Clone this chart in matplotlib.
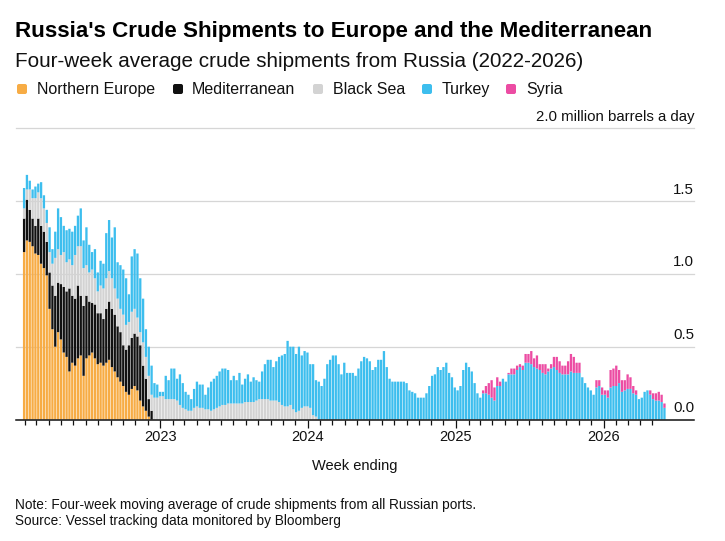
import numpy as np
import pandas as pd
import matplotlib
matplotlib.use("Agg")
import matplotlib.pyplot as plt
import matplotlib.transforms as mtransforms
from matplotlib.patches import FancyBboxPatch

plt.rcParams['font.family'] = ['Liberation Sans', 'DejaVu Sans']

# ---------------- data (million barrels a day, weekly, four-week avg) ----------------
first_week = '2022-01-30'
n_weeks = 227

northern_europe = [1.15, 1.23, 1.22, 1.19, 1.14, 1.13, 1.07, 1.04, 0.99, 0.76, 0.62, 0.50, 0.60, 0.55,
                   0.46, 0.43, 0.33, 0.39, 0.37, 0.42, 0.44, 0.30, 0.42, 0.44, 0.46, 0.42, 0.38, 0.39,
                   0.37, 0.39, 0.41, 0.36, 0.33, 0.29, 0.26, 0.23, 0.19, 0.17, 0.21, 0.23, 0.20, 0.13,
                   0.09, 0.06, 0.02]
northern_europe_start = 0

mediterranean = [0.23, 0.28, 0.22, 0.19, 0.19, 0.25, 0.26, 0.25, 0.23, 0.25, 0.30, 0.35, 0.34, 0.38,
                 0.45, 0.45, 0.57, 0.46, 0.46, 0.50, 0.41, 0.48, 0.43, 0.37, 0.34, 0.37, 0.35, 0.34,
                 0.32, 0.37, 0.40, 0.40, 0.39, 0.35, 0.34, 0.28, 0.29, 0.34, 0.35, 0.36, 0.37, 0.38,
                 0.28, 0.22, 0.12, 0.06]
mediterranean_start = 0

black_sea = [0.07, 0.07, 0.14, 0.14, 0.19, 0.18, 0.19, 0.16, 0.13, 0.14, 0.15, 0.26, 0.23, 0.20,
             0.24, 0.20, 0.20, 0.21, 0.30, 0.27, 0.34, 0.26, 0.21, 0.20, 0.23, 0.18, 0.15, 0.19,
             0.21, 0.21, 0.21, 0.21, 0.18, 0.19, 0.16, 0.21, 0.17, 0.16, 0.18, 0.17, 0.13, 0.09,
             0.16, 0.15, 0.16, 0.11, 0.15, 0.15,
             0.16, 0.16, 0.14, 0.14, 0.14, 0.14, 0.13, 0.10, 0.08, 0.07, 0.06, 0.06, 0.08, 0.09,
             0.08, 0.08, 0.07, 0.07, 0.06, 0.07, 0.08, 0.09, 0.10, 0.10, 0.11, 0.11, 0.11, 0.11,
             0.11, 0.11, 0.12, 0.12, 0.12, 0.12, 0.13, 0.14, 0.14, 0.14, 0.14, 0.13, 0.13, 0.13,
             0.12, 0.10, 0.09, 0.09, 0.10, 0.07, 0.05, 0.06, 0.08, 0.09, 0.09, 0.08, 0.03, 0.02]
black_sea_start = 0

turkey = [0.14, 0.10, 0.06, 0.06, 0.08, 0.06, 0.11, 0.09, 0.09, 0.17, 0.10, 0.18, 0.28, 0.26,
          0.18, 0.22, 0.21, 0.23, 0.20, 0.21, 0.26, 0.19, 0.26, 0.19, 0.12, 0.20, 0.13, 0.17,
          0.17, 0.31, 0.35, 0.28, 0.42, 0.25, 0.30, 0.31, 0.32, 0.19, 0.38, 0.41, 0.44, 0.37,
          0.30, 0.19, 0.20, 0.20, 0.10, 0.09,
          0.03, 0.03, 0.16, 0.13, 0.21, 0.21, 0.15, 0.21, 0.17, 0.12, 0.11, 0.08, 0.13, 0.17,
          0.16, 0.16, 0.10, 0.15, 0.20, 0.21, 0.22, 0.24, 0.25, 0.25, 0.23, 0.16, 0.19, 0.16,
          0.21, 0.13, 0.16, 0.19, 0.14, 0.17, 0.14, 0.12, 0.19, 0.24, 0.27, 0.28, 0.23, 0.27,
          0.31, 0.34, 0.36, 0.45, 0.40, 0.43, 0.40, 0.44, 0.36, 0.38, 0.37, 0.30, 0.35, 0.25,
          0.26, 0.23, 0.28, 0.38, 0.41, 0.44, 0.44, 0.38, 0.31, 0.39, 0.32, 0.32, 0.32, 0.30,
          0.35, 0.40, 0.43, 0.42, 0.40, 0.34, 0.36, 0.41, 0.41, 0.47, 0.36, 0.28, 0.26, 0.26,
          0.26, 0.26, 0.26, 0.25, 0.20, 0.19, 0.18, 0.15, 0.15, 0.15, 0.18, 0.23, 0.30, 0.31,
          0.36, 0.34, 0.36, 0.39, 0.32, 0.29, 0.22, 0.20, 0.23, 0.34, 0.39, 0.36, 0.33, 0.25,
          0.18, 0.15, 0.18, 0.18, 0.17, 0.15, 0.13, 0.23, 0.23, 0.28, 0.26, 0.31, 0.31, 0.31,
          0.34, 0.36, 0.34, 0.39, 0.39, 0.38, 0.36, 0.35, 0.34, 0.32, 0.31, 0.33, 0.35, 0.36,
          0.34, 0.32, 0.31, 0.31, 0.31, 0.33, 0.32, 0.32, 0.32, 0.29, 0.25, 0.22, 0.20, 0.17,
          0.22, 0.23, 0.17, 0.17, 0.15, 0.22, 0.23, 0.23, 0.25, 0.19, 0.20, 0.21, 0.21, 0.18,
          0.17, 0.14, 0.15, 0.19, 0.20, 0.17, 0.14, 0.13, 0.13, 0.12, 0.08]
turkey_start = 0

syria = [0.02, 0.05, 0.08, 0.12, 0.09, 0.06, 0.03, 0.00, 0.00, 0.01, 0.04, 0.04, 0.03, 0.02,
         0.03, 0.06, 0.06, 0.09, 0.06, 0.09, 0.04, 0.06, 0.07, 0.02, 0.03, 0.07, 0.09, 0.08,
         0.06, 0.06, 0.09, 0.12, 0.11, 0.07, 0.07, 0.00, 0.00, 0.00, 0.00, 0.00, 0.05, 0.04,
         0.05, 0.03, 0.05, 0.12, 0.12, 0.14, 0.09, 0.08, 0.07, 0.10, 0.08, 0.05, 0.03, 0.00,
         0.00, 0.00, 0.00, 0.03, 0.04, 0.05, 0.06, 0.05, 0.03]
syria_start = 162

series_names = ['Northern Europe', 'Mediterranean', 'Black Sea', 'Turkey', 'Syria']
series_colors = ['#F7AC45', '#111111', '#D3D3D3', '#3DBEEE', '#EC4CA3']

y_ticks = [0.0, 0.5, 1.0, 1.5, 2.0]
y_tick_labels = ['0.0', '0.5', '1.0', '1.5', '2.0 million barrels a day']
year_labels = ['2023', '2024', '2025', '2026']

title = "Russia's Crude Shipments to Europe and the Mediterranean"
subtitle = "Four-week average crude shipments from Russia (2022-2026)"
x_label = "Week ending"
note = "Note: Four-week moving average of crude shipments from all Russian ports."
source = "Source: Vessel tracking data monitored by Bloomberg"


def full_series(values, start):
    out = np.zeros(n_weeks)
    out[start:start + len(values)] = values
    return out


dates = pd.date_range(first_week, periods=n_weeks, freq='7D')
stack = [full_series(northern_europe, northern_europe_start),
         full_series(mediterranean, mediterranean_start),
         full_series(black_sea, black_sea_start),
         full_series(turkey, turkey_start),
         full_series(syria, syria_start)]

# ---------------- figure ----------------
W, H = 725, 541
fig = plt.figure(figsize=(W / 100, H / 100), dpi=100)
fig.patch.set_facecolor('white')


def fx(x):
    return x / W


def fy(y):
    return 1 - y / H


ax_left, ax_right, ax_top, ax_bottom = 16, 694, 128.3, 419.5
ax = fig.add_axes([fx(ax_left), fy(ax_bottom), fx(ax_right) - fx(ax_left), fy(ax_top) - fy(ax_bottom)])

bottom = np.zeros(n_weeks)
for vals, color in zip(stack, series_colors):
    ax.bar(dates, vals, bottom=bottom, width=5.7, color=color, linewidth=0, zorder=3, snap=False)
    bottom = bottom + vals

ax.set_ylim(0, 2.0)
ax.set_xlim(pd.Timestamp('2022-01-10'), pd.Timestamp('2026-08-12'))

# gridlines
for v in y_ticks[1:]:
    ax.axhline(v, color='#D6D6D6', lw=0.9, zorder=1, clip_on=False)

# y labels above gridlines, right-aligned
trans = mtransforms.blended_transform_factory(ax.transAxes, ax.transData)
trans_off = mtransforms.offset_copy(trans, fig=fig, x=0, y=5.4, units='points')
for v, lab in zip(y_ticks, y_tick_labels):
    ax.text(1.0, v, lab, transform=trans_off, ha='right', va='baseline', fontsize=10.8, color='#111111')

ax.set_yticks([])
for s in ['left', 'right', 'top']:
    ax.spines[s].set_visible(False)
ax.spines['bottom'].set_color('#111111')
ax.spines['bottom'].set_linewidth(1.1)
ax.spines['bottom'].set_zorder(4)

# x ticks
major = [pd.Timestamp(f'{y}-01-01') for y in year_labels]
months = pd.date_range('2022-02-01', '2026-05-01', freq='MS')
minor = [m for m in months if m.month != 1]
ax.set_xticks(major)
ax.set_xticklabels(year_labels)
ax.set_xticks(minor, minor=True)
ax.tick_params(axis='x', which='major', length=5.5, width=0.9, color='#111111', pad=2,
               labelsize=10.5, labelcolor='#111111')
ax.tick_params(axis='x', which='minor', length=3.5, width=0.9, color='#111111')

# ---------------- texts ----------------
fig.text(fx(15), fy(37.3), title, fontsize=16.1, fontweight='bold', ha='left', va='baseline', color='#000000')
fig.text(fx(15), fy(66.7), subtitle, fontsize=14.9, ha='left', va='baseline', color='#111111')

leg_sq_x = [17, 173, 313, 422, 506]
leg_tx_x = [37, 192, 333, 442, 526]
for name, color, sx, tx in zip(series_names, series_colors, leg_sq_x, leg_tx_x):
    box = FancyBboxPatch((sx, H - 94), 10, 10, boxstyle='round,pad=0,rounding_size=2',
                         transform=mtransforms.IdentityTransform(), facecolor=color,
                         edgecolor='none', figure=fig)
    fig.patches.append(box)
    fig.text(fx(tx), fy(94), name, fontsize=11.5, ha='left', va='baseline', color='#111111')

fig.text(fx(355), fy(466), x_label, fontsize=10.5, ha='center', va='center', color='#111111')
fig.text(fx(15), fy(505), note, fontsize=9.85, ha='left', va='center', color='#111111')
fig.text(fx(15), fy(521), source, fontsize=9.85, ha='left', va='center', color='#111111')

fig.savefig('out.png', dpi=100, facecolor='white')
